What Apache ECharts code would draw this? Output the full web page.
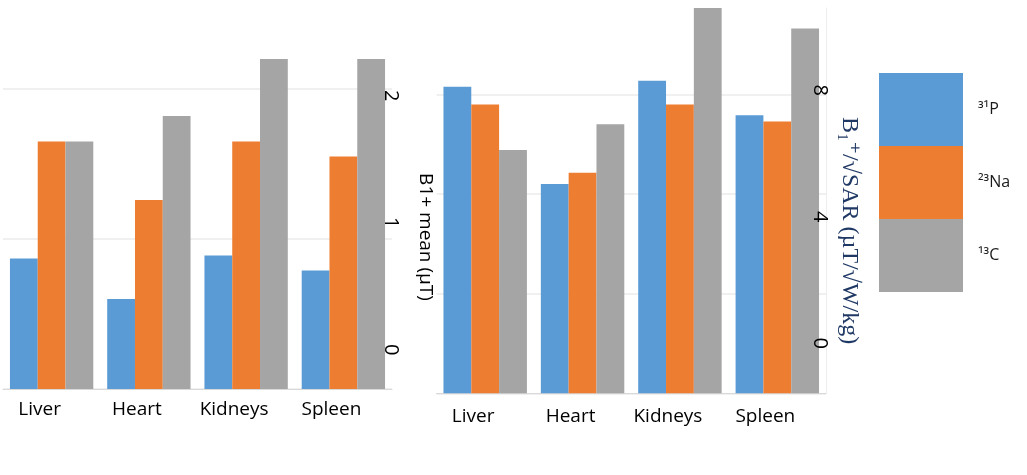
<!DOCTYPE html>
<html>
<head>
<meta charset="utf-8">
<script src="https://cdn.jsdelivr.net/npm/echarts@6/dist/echarts.min.js"></script>
<style>
  html, body { margin: 0; padding: 0; background: #ffffff; }
  #main { width: 1027px; height: 475px; }
</style>
</head>
<body>
<div id="main"></div>
<script>
// ---- data ----
const categories = ['Liver', 'Heart', 'Kidneys', 'Spleen'];
const seriesNames = ['³¹P', '²³Na', '¹³C'];

// Left chart: B1+ mean (µT)
const meanP  = [0.87, 0.60, 0.89, 0.79];
const meanNa = [1.65, 1.26, 1.65, 1.55];
const meanC  = [1.65, 1.82, 2.20, 2.20];

// Right chart: B1+/sqrt(SAR) (µT/sqrt(W/kg))
const effP  = [8.20, 5.60, 8.36, 7.44];
const effNa = [7.73, 5.90, 7.73, 7.27];
const effC  = [6.51, 7.20, 10.31, 9.76];

const meanTicks = [0, 1, 2];
const effTicks = [0, 4, 8];

const colors = ['#5B9BD5', '#ED7D31', '#A5A5A5'];

const chart = echarts.init(document.getElementById('main'), null, { renderer: 'canvas' });

function catAxis(gridIndex, margin) {
  return {
    type: 'category', gridIndex: gridIndex, data: categories,
    axisTick: { show: false },
    axisLine: { show: true, lineStyle: { color: '#d9d9d9', width: 1 } },
    axisLabel: { fontSize: 19, color: '#000000', margin: margin, padding: [0, 24, 0, 0] }
  };
}

function bar(name, data, yIdx, xIdx, color) {
  return {
    type: 'bar', name: name, data: data,
    xAxisIndex: xIdx, yAxisIndex: yIdx,
    barGap: '0%', barCategoryGap: '14.3%',
    itemStyle: { color: color },
    emphasis: { disabled: true }
  };
}

const option = {
  animation: false,
  backgroundColor: '#ffffff',
  textStyle: { fontFamily: '"Open Sans", sans-serif' },
  color: colors,
  legend: {
    orient: 'vertical', left: 879, top: 73, padding: 0,
    itemWidth: 84, itemHeight: 73, itemGap: 0,
    icon: 'rect', selectedMode: false,
    data: seriesNames,
    textStyle: { fontSize: 16, color: '#1a1a1a', padding: [0, 0, 0, 10] }
  },
  grid: [
    { left: 3, right: 635, top: 59, bottom: 86, outerBoundsMode: 'none', containLabel: false },
    { left: 436.5, right: 201, top: 8, bottom: 81.7, outerBoundsMode: 'none', containLabel: false }
  ],
  xAxis: [catAxis(0, 11), catAxis(1, 14)],
  yAxis: [
    {
      type: 'value', gridIndex: 0, position: 'right',
      min: 0, max: 2.2, interval: 1,
      axisLabel: { show: false }, axisLine: { show: false }, axisTick: { show: false },
      splitLine: { show: true, showMaxLine: false, lineStyle: { color: '#ebebeb', width: 1.5 } }
    },
    {
      type: 'value', gridIndex: 0, position: 'right', z: 5,
      min: -0.309, max: 2.289,
      axisLine: { show: false }, axisTick: { show: false }, splitLine: { show: false },
      axisLabel: { customValues: meanTicks, rotate: -90, margin: -11, fontSize: 20, color: '#000000' },
      name: 'B1+ mean (µT)', nameLocation: 'middle', nameRotate: -90, nameGap: 24,
      nameTextStyle: { fontSize: 19, color: '#000000', padding: [0, 0, 0, 26] }
    },
    {
      type: 'value', gridIndex: 1, position: 'right',
      min: 0, max: 10.31, interval: 8 / 3,
      axisLabel: { show: false }, axisTick: { show: false },
      axisLine: { show: true, lineStyle: { color: '#eeeeee' } },
      splitLine: { show: true, showMaxLine: false, lineStyle: { color: '#ebebeb', width: 1.5 } }
    },
    {
      type: 'value', gridIndex: 1, position: 'right', z: 5,
      min: -1.584, max: 10.599,
      axisLine: { show: false }, axisTick: { show: false }, splitLine: { show: false },
      axisLabel: { customValues: effTicks, rotate: -90, margin: -16, fontSize: 20, color: '#000000' },
      name: 'B₁⁺/√SAR (µT/√W/kg)', nameLocation: 'middle', nameRotate: -90, nameGap: 11,
      nameTextStyle: { fontFamily: '"Liberation Serif", "DejaVu Serif", serif', fontSize: 24, color: '#1F3864', padding: [0, 0, 0, 60] }
    }
  ],
  series: [
    bar(seriesNames[0], meanP, 0, 0, colors[0]),
    bar(seriesNames[1], meanNa, 0, 0, colors[1]),
    bar(seriesNames[2], meanC, 0, 0, colors[2]),
    bar(seriesNames[0], effP, 2, 1, colors[0]),
    bar(seriesNames[1], effNa, 2, 1, colors[1]),
    bar(seriesNames[2], effC, 2, 1, colors[2])
  ]
};

chart.setOption(option);
</script>
</body>
</html>
